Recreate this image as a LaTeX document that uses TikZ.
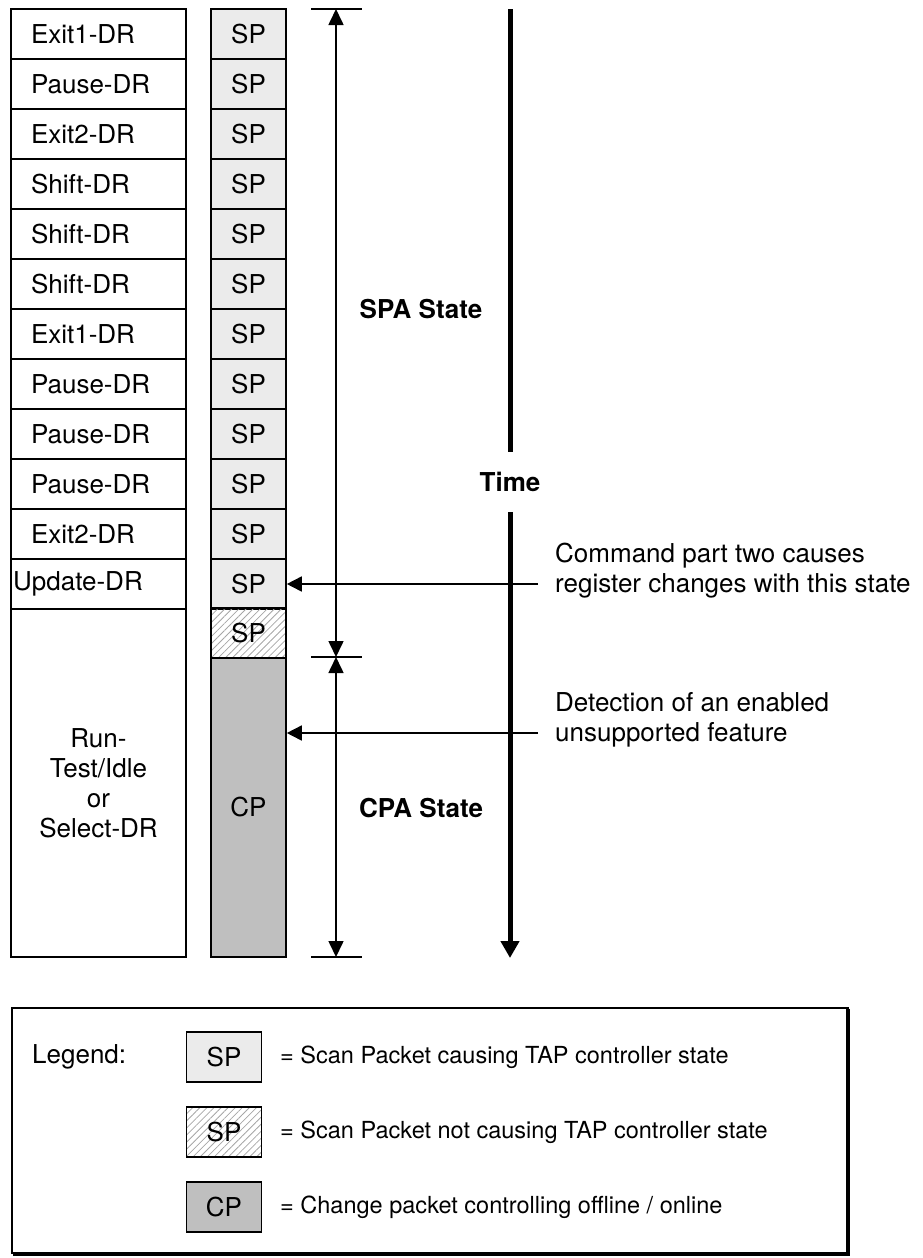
\documentclass[tikz,border=0pt]{standalone}
\usepackage{fontspec}
\setmainfont{TeX Gyre Heros}
\usetikzlibrary{arrows.meta,patterns.meta}

\tikzset{
  base/.style={font=\fontsize{26}{30}\selectfont},
  statebox/.style={base,draw,line width=1.6pt,minimum height=50pt,
    text width=135pt,inner xsep=20pt,inner ysep=0pt,align=left},
  widestate/.style={statebox,text width=171pt,inner xsep=2pt},
  packet/.style={base,draw,line width=1.6pt,minimum width=75pt,minimum height=50pt,inner sep=0pt},
  sppacket/.style={packet,fill=black!8},
  hatchpacket/.style={packet,pattern={Lines[angle=45,distance=5pt,line width=0.8pt]},pattern color=black!35},
  cppacket/.style={packet,fill=black!25},
  tick/.style={line width=1.6pt},
  span/.style={line width=1.6pt,{Triangle[width=15pt,length=16pt]}-{Triangle[width=15pt,length=16pt]}},
  timeline/.style={line width=5pt},
  pointer/.style={line width=1.6pt,-{Triangle[width=15pt,length=15pt]}},
  heading/.style={base,font=\fontsize{26}{30}\selectfont\bfseries},
  note/.style={base,anchor=west,align=left,inner sep=0pt},
  legendtext/.style={anchor=west,inner sep=0pt,font=\fontsize{23.5}{28}\selectfont}
}

\begin{document}
\begin{tikzpicture}[x=1pt,y=-1pt]
\useasboundingbox (0,0) rectangle (922,1258);

% TAP controller states and the scan packets that cause them
\foreach \lbl [count=\i from 0] in {Exit1-DR,Pause-DR,Exit2-DR,Shift-DR,Shift-DR,Shift-DR,
                                    Exit1-DR,Pause-DR,Pause-DR,Pause-DR,Exit2-DR}{
  \node[statebox] (st\i) at (98.5,{34+50*\i}) {\lbl};
  \node[sppacket] (sp\i) at (248.5,{34+50*\i}) {SP};
}
\node[widestate] (st11) at (98.5,584) {Update-DR};
\node[sppacket] (sp11) at (248.5,584) {SP};

% idle state, hatched scan packet and change packet
\node[base,draw,line width=1.6pt,minimum width=175pt,minimum height=348pt,align=center,inner sep=0pt]
  (idle) at (98.5,783) {Run-\\Test/Idle\\or\\Select-DR};
\node[hatchpacket] (sp12) at (248.5,633) {SP};
\node[cppacket,minimum height=299pt] (cp) at (248.5,807.5) {CP};

% SPA / CPA spans
\coordinate (spatop) at (336,9);
\coordinate (spabot) at (336,657);
\coordinate (cpabot) at (336,957);
\foreach \c in {spatop,spabot,cpabot}
  \draw[tick] ([xshift=-25pt]\c) -- ([xshift=26pt]\c);
\draw[span] (spatop) -- (spabot);
\draw[span] (spabot) -- (cpabot);
\node[heading] (spa) at (421,309) {SPA State};
\node[heading] (cpa) at (421,808) {CPA State};

% time axis
\node[heading] (time) at (510,482) {Time};
\coordinate (ttop) at (510,9);
\coordinate (tend) at (510,958);
\draw[timeline] (ttop) -- (time.north |- 0,452);
\draw[timeline,-{Triangle[width=18pt,length=17pt]}] (time.south |- 0,512) -- (tend);

% annotations
\coordinate (cmdtail) at (538,584);
\draw[pointer] (cmdtail) -- (sp11.east);
\node[note] (cmd) at (555,571) {Command part two causes\\register changes with this state};
\coordinate (dettail) at (538,733);
\draw[pointer] (dettail) -- (cp.east |- dettail);
\node[note] (det) at (555,720) {Detection of an enabled\\unsupported feature};

% legend
\draw[line width=1.5pt] (12,1008) rectangle (848,1253);
\draw[line width=4pt] (848,1009) -- (848,1254) -- (13,1254);
\node[base,anchor=west,inner sep=0pt] (leg) at (32,1057) {Legend:};
\node[sppacket] (lg1) at (224,1057) {SP};
\node[hatchpacket] (lg2) at (224,1132) {SP};
\node[cppacket] (lg3) at (224,1207) {CP};
\node[legendtext] at (280,1057) {= Scan Packet causing TAP controller state};
\node[legendtext] at (280,1132) {= Scan Packet not causing TAP controller state};
\node[legendtext] at (280,1207) {= Change packet controlling offline / online};
\end{tikzpicture}
\end{document}
